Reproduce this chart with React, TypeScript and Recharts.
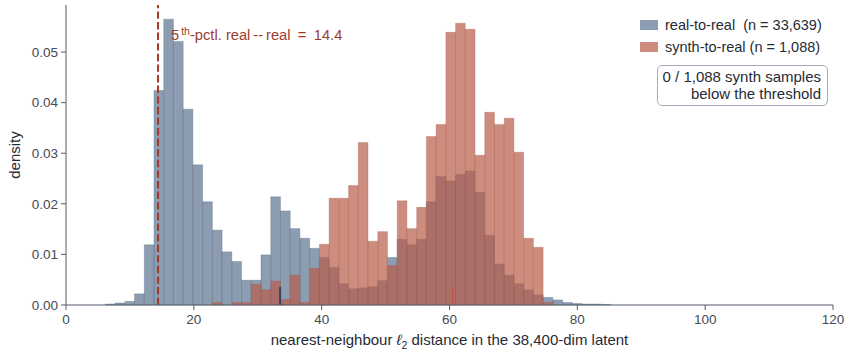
import React from 'react';
import { ComposedChart, Bar, XAxis, YAxis, ReferenceLine, Legend, Label } from 'recharts';

// histogram bins: left edge of the first bin and the common width
const BIN_START = 6.16;
const BIN_WIDTH = 1.522;

// density per bin
const realToReal = [
  0.0002, 0.0004, 0.0007, 0.0022, 0.0119, 0.0424, 0.0565, 0.0521, 0.0387, 0.0277,
  0.0204, 0.0148, 0.0105, 0.0086, 0.0049, 0.0049, 0.0099, 0.0214, 0.0186, 0.0151,
  0.0132, 0.0112, 0.0094, 0.0074, 0.0042, 0.0032, 0.0034, 0.0036, 0.0048, 0.0094,
  0.013, 0.0119, 0.013, 0.0204, 0.0254, 0.0245, 0.0258, 0.0265, 0.0223, 0.0138,
  0.0081, 0.0059, 0.0042, 0.003, 0.002, 0.0015, 0.001, 0.0005, 0.0003, 0.0002,
  0.0002, 0.0001,
];

const synthToReal = [
  0, 0, 0, 0, 0, 0, 0, 0, 0, 0,
  0, 0.0005, 0, 0.0005, 0.0005, 0.0041, 0.003, 0.0047, 0.0011, 0.0059,
  0.0005, 0.0072, 0.012, 0.0211, 0.0211, 0.0236, 0.0321, 0.0126, 0.0145, 0.0078,
  0.0206, 0.0151, 0.0193, 0.0333, 0.0357, 0.0539, 0.0557, 0.0545, 0.0296, 0.0381,
  0.0357, 0.0369, 0.0302, 0.0132, 0.0114, 0.0005, 0, 0, 0, 0,
  0, 0,
];

const SERIES_NAMES = ['real-to-real  (n = 33,639)', 'synth-to-real (n = 1,088)'];
const X_TICKS = [0, 20, 40, 60, 80, 100, 120];
const Y_TICKS = [0, 0.01, 0.02, 0.03, 0.04, 0.05];
const THRESHOLD = 14.4;
const MEDIANS = [33.5, 60.5];
const MEDIAN_MARK_HEIGHT = 0.0036;
const SYNTH_TOTAL = '1,088';
const SYNTH_BELOW = 0;

const data = realToReal.map((v, i) => ({
  x: BIN_START + BIN_WIDTH * (i + 0.5),
  real: v,
  synth: synthToReal[i],
}));

const W = 847;
const H = 351;
const MARGIN = { top: 5, right: 14, bottom: 16, left: 0 };
const Y_AXIS_W = 66;
const X_MAX = 120;
const plotW = W - MARGIN.left - MARGIN.right - Y_AXIS_W;
const barPx = (BIN_WIDTH * plotW) / X_MAX - 0.02;

const FONT = '"Liberation Sans", Arial, Helvetica, sans-serif';
const AXIS = '#525c6c';
const TEXT = '#262b36';
const TICK_TEXT = '#454a54';
const BLUE = '#5b7290';
const RED = '#b65c48';
const ANNOT = '#9b3d30';
const MEDIAN_COLORS = ['#2f4461', '#c45a44'];

const LegendBox = ({ payload }: any) => (
  <div style={{ fontFamily: FONT, fontSize: 14.5, color: TEXT }}>
    {(payload || []).map((entry: any, i: number) => (
      <div key={i} style={{ display: 'flex', alignItems: 'center', height: 22 }}>
        <span
          style={{
            display: 'inline-block',
            width: 18,
            height: 10,
            background: entry.color,
            opacity: 0.7,
            marginRight: 7,
          }}
        />
        <span style={{ whiteSpace: 'pre' }}>{entry.value}</span>
      </div>
    ))}
    <div
      style={{
        marginTop: 7,
        marginLeft: 17,
        width: 171,
        boxSizing: 'border-box',
        border: '1px solid #a4adbd',
        borderRadius: 5,
        padding: '3px 6px 3px 0',
        textAlign: 'right',
        fontSize: 15,
        lineHeight: '16.5px',
      }}
    >
      {SYNTH_BELOW} / {SYNTH_TOTAL} synth samples
      <br />
      below the threshold
    </div>
  </div>
);

const ThresholdLabel = ({ viewBox }: any) => {
  const { x, y } = viewBox;
  return (
    <text x={x + 13} y={y + 35} fill={ANNOT} fontSize={14.7} style={{ whiteSpace: 'pre' }}>
      <tspan>5</tspan>
      <tspan dx={2} dy={-5.5} fontSize={10.5}>th</tspan>
      <tspan dy={5.5}>{`-pctl. real\u2009--\u2009real\u2002=\u2002${THRESHOLD}`}</tspan>
    </text>
  );
};

export default function App() {
  return (
    <div style={{ position: 'absolute', left: 0, top: 0, fontFamily: FONT, background: '#fff' }}>
      <ComposedChart
        width={W}
        height={H}
        data={data}
        margin={MARGIN}
        barCategoryGap={0}
        barGap={0}
      >
        <XAxis
          xAxisId="main"
          type="number"
          dataKey="x"
          domain={[0, X_MAX]}
          ticks={X_TICKS}
          height={30}
          stroke={AXIS}
          tickSize={5}
          tickMargin={4}
          tick={{ fontSize: 13.5, fill: TICK_TEXT }}
        >
          <Label
            content={({ viewBox }: any) => (
              <text
                x={viewBox.x + viewBox.width / 2}
                y={viewBox.y + 40}
                textAnchor="middle"
                fontSize={15}
                fill={TEXT}
              >
                nearest-neighbour <tspan fontStyle="italic">ℓ</tspan>
                <tspan dy={3.5} fontSize={10.5}>2</tspan>
                <tspan dy={-3.5}> distance in the 38,400-dim latent</tspan>
              </text>
            )}
          />
        </XAxis>
        <XAxis xAxisId="over" type="number" dataKey="x" domain={[0, X_MAX]} hide />
        <YAxis
          type="number"
          domain={[0, 0.0593]}
          ticks={Y_TICKS}
          width={Y_AXIS_W}
          stroke={AXIS}
          tickSize={5}
          tickMargin={3}
          tick={{ fontSize: 13.5, fill: TICK_TEXT }}
          tickFormatter={(v: number) => v.toFixed(2)}
        >
          <Label
            content={({ viewBox }: any) => {
              const cx = viewBox.x + 14;
              const cy = viewBox.y + viewBox.height / 2;
              return (
                <text
                  x={cx}
                  y={cy}
                  transform={`rotate(-90 ${cx} ${cy})`}
                  textAnchor="middle"
                  dominantBaseline="central"
                  fontSize={15}
                  fill={TEXT}
                >
                  density
                </text>
              );
            }}
          />
        </YAxis>
        <Bar
          xAxisId="main"
          dataKey="real"
          name={SERIES_NAMES[0]}
          fill={BLUE}
          fillOpacity={0.7}
          stroke="#55677f"
          strokeOpacity={0.55}
          strokeWidth={0.6}
          barSize={barPx}
          isAnimationActive={false}
        />
        <Bar
          xAxisId="over"
          dataKey="synth"
          name={SERIES_NAMES[1]}
          fill={RED}
          fillOpacity={0.7}
          stroke="#a95845"
          strokeOpacity={0.5}
          strokeWidth={0.6}
          barSize={barPx}
          isAnimationActive={false}
        />
        <ReferenceLine
          xAxisId="main"
          x={THRESHOLD}
          stroke="#a2392b"
          strokeWidth={2}
          strokeDasharray="7.4 3.2"
          label={<ThresholdLabel />}
        />
        {MEDIANS.map((m, i) => (
          <ReferenceLine
            key={m}
            xAxisId="main"
            segment={[
              { x: m, y: 0 },
              { x: m, y: MEDIAN_MARK_HEIGHT },
            ]}
            stroke={MEDIAN_COLORS[i]}
            strokeWidth={i === 0 ? 2 : 1.5}
          />
        ))}
        <Legend
          layout="horizontal"
          verticalAlign="middle"
          align="center"
          content={<LegendBox />}
          wrapperStyle={{ left: 640, top: 14, width: 205, right: 'auto', bottom: 'auto' }}
        />
      </ComposedChart>
    </div>
  );
}
